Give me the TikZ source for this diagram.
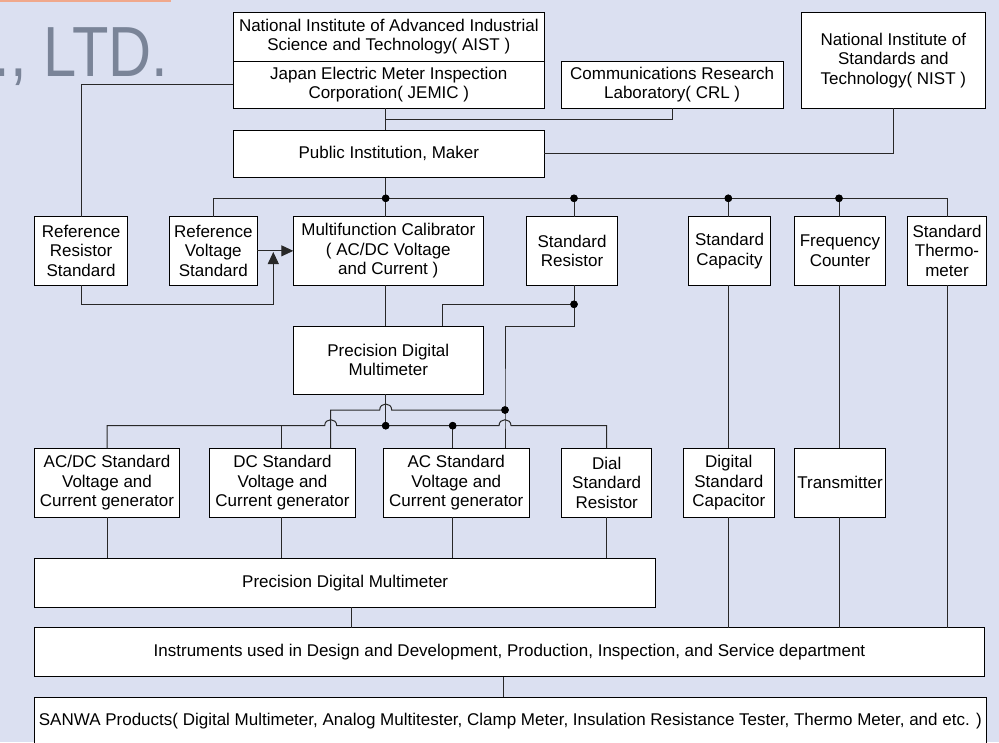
\documentclass[tikz,border=0pt]{standalone}
\usepackage{fontspec}
\setmainfont{Liberation Sans}
\usetikzlibrary{arrows.meta}
\definecolor{bg}{RGB}{219,224,241}
\definecolor{logocol}{RGB}{122,132,152}
\definecolor{barcol}{RGB}{240,168,140}
\definecolor{ln}{RGB}{40,40,40}
\begin{document}
\begin{tikzpicture}[x=1pt,y=-1pt,
  box/.style={draw=black, line width=1pt, fill=white, inner sep=0pt, outer sep=0pt, align=center, font=\fontsize{17}{19.5}\selectfont},
  wire/.style={draw=ln, line width=1pt},
  jdot/.style={circle, fill=black, inner sep=0pt, minimum size=7.5pt},
  tip/.style={-{Triangle[length=12pt,width=11pt]}}
]
\useasboundingbox (0,0) rectangle (999,742);
\begin{scope}
\clip (0,0) rectangle (999,742);
\fill[bg] (0,0) rectangle (999,742);
\fill[barcol] (0,0) rectangle (171,1.5);
\node[anchor=base west, inner sep=0pt, text=logocol] (logo) at (-6.2,76) {\scalebox{0.84}[1]{\fontsize{71}{71}\selectfont ., LTD.}};

% boxes
\node[box, minimum width=311pt, minimum height=48.3pt] (aist) at (388.8,36.85) {National Institute of Advanced Industrial\\Science and Technology( AIST )};
\node[box, minimum width=311pt, minimum height=47.3pt] (jemic) at (388.8,84.65) {Japan Electric Meter Inspection\\Corporation( JEMIC )};
\node[box, minimum width=222.3pt, minimum height=47.3pt] (crl) at (672.15,84.65) {Communications Research\\Laboratory( CRL )};
\node[box, minimum width=183.3pt, minimum height=95.6pt] (nist) at (893.35,60.5) {National Institute of\\Standards and\\Technology( NIST )};
\node[box, minimum width=311pt, minimum height=47.5pt] (pub) at (388.8,153.75) {Public Institution, Maker};

\node[box, minimum width=92.6pt, minimum height=68.3pt] (rrs) at (81,250.85) {Reference\\Resistor\\Standard};
\node[box, minimum width=88pt, minimum height=68.3pt] (rvs) at (213.3,250.85) {Reference\\Voltage\\Standard};
\node[box, minimum width=190pt, minimum height=68.3pt] (mfc) at (388.3,250.85) {Multifunction Calibrator\\( AC/DC Voltage\\and Current )};
\node[box, minimum width=90.6pt, minimum height=68.3pt] (sr) at (572,250.85) {Standard\\Resistor};
\node[box, minimum width=82.4pt, minimum height=68.3pt] (sc) at (729.5,250.85) {Standard\\Capacity};
\node[box, minimum width=91.4pt, minimum height=68.3pt] (fc) at (840,250.85) {Frequency\\Counter};
\node[box, minimum width=79.4pt, minimum height=68.3pt] (st) at (947,250.85) {Standard\\Thermo-\\meter};

\node[box, minimum width=190pt, minimum height=68pt] (pdm1) at (388.3,360) {Precision Digital\\Multimeter};

\node[box, minimum width=144.6pt, minimum height=69pt] (acdc) at (107,482.8) {AC/DC Standard\\Voltage and\\Current generator};
\node[box, minimum width=146.4pt, minimum height=69pt] (dc) at (282.5,482.8) {DC Standard\\Voltage and\\Current generator};
\node[box, minimum width=146pt, minimum height=69pt] (ac) at (456.3,482.8) {AC Standard\\Voltage and\\Current generator};
\node[box, minimum width=90pt, minimum height=69pt] (dial) at (606.7,482.8) {Dial\\Standard\\Resistor};
\node[box, minimum width=91pt, minimum height=69pt] (dsc) at (728.8,482.8) {Digital\\Standard\\Capacitor};
\node[box, minimum width=91.4pt, minimum height=69pt] (tr) at (840,482.8) {Transmitter};

\node[box, minimum width=621pt, minimum height=49pt] (pdm2) at (345.2,582.8) {Precision Digital Multimeter};
\node[box, minimum width=949.6pt, minimum height=49pt] (inst) at (509.5,652.2) {Instruments used in Design and Development, Production, Inspection, and Service department};
\node[box, minimum width=951.3pt, minimum height=46.8pt] (sanwa) at (510.35,720.7) {SANWA Products( Digital Multimeter, Analog Multitester, Clamp Meter, Insulation Resistance Tester, Thermo Meter, and etc. )};

% helper coordinates
\coordinate (sp) at (385.7,0);
\coordinate (crlj) at (385.7,119.3);
\coordinate (lp) at (273.3,304);
\coordinate (lpt) at (273.3,252);
\coordinate (k1) at (442.3,326);
\coordinate (k2) at (574,326);
\coordinate (k3) at (505,326);
\coordinate (u1) at (330.7,410);
\coordinate (dcl) at (281.7,425.7);
\coordinate (q1) at (351.3,0);
\coordinate (q2) at (503.3,0);

% junction dots
\node[jdot] (b1) at (385.7,198.3) {};
\node[jdot] (b2) at (574,198.3) {};
\node[jdot] (b3) at (728.3,198.3) {};
\node[jdot] (b4) at (839,198.3) {};
\node[jdot] (b5) at (574,304.3) {};
\node[jdot] (b6) at (505,410) {};
\node[jdot] (b7) at (385.7,425.7) {};
\node[jdot] (b8) at (452.7,425.7) {};

% top wires
\draw[wire] (jemic.west) -| (rrs.north);
\draw[wire] (jemic.south -| sp) -- (pub.north -| sp);
\draw[wire] (crl.south) |- (crlj);
\draw[wire] (nist.south) |- (pub.east);
\draw[wire] (pub.south -| sp) -- (b1.center) -- (mfc.north -| sp);
\draw[wire] (rvs.north) |- (b1.center) -- (b4.center) -| (st.north);
\draw[wire] (b2.center) -- (b2.center |- sr.north);
\draw[wire] (b3.center) -- (b3.center |- sc.north);
\draw[wire] (b4.center) -- (b4.center |- fc.north);

% reference loop and arrows
\draw[wire,tip] (rrs.south) |- (lp) -- (lpt);
\draw[wire,tip] (rvs.east) -- (mfc.west);

% calibrator to multimeter
\draw[wire] (mfc.south -| sp) -- (pdm1.north -| sp);

% standard resistor
\draw[wire] (sr.south -| b2) -- (b5.center) -| (k1);
\draw[wire] (b5.center) -- (k2) -- (k3) -- (b6.center) -- (ac.north -| b6);

% upper line
\draw[wire] (dc.north -| u1) -- (u1) -- (379.7,410) .. controls (379.7,402) and (391.7,402) .. (391.7,410) -- (b6.center);

% lower line
\draw[wire] (pdm1.south -| sp) -- (b7.center);
\draw[wire] (acdc.north) |- (324.7,425.7) .. controls (324.7,417.7) and (336.7,417.7) .. (336.7,425.7) -- (b7.center) -- (b8.center) -- (499,425.7) .. controls (499,417.7) and (511,417.7) .. (511,425.7) -| (dial.north);
\draw[wire] (dcl) -- (dc.north -| dcl);
\draw[wire] (b8.center) -- (ac.north -| b8);

% row 3 to multimeter
\draw[wire] (acdc.south) -- (acdc.south |- pdm2.north);
\draw[wire] (dc.south -| dcl) -- (pdm2.north -| dcl);
\draw[wire] (ac.south -| b8) -- (pdm2.north -| b8);
\draw[wire] (dial.south) -- (dial.south |- pdm2.north);

% right columns
\draw[wire] (sc.south -| b3) -- (dsc.north -| b3);
\draw[wire] (dsc.south -| b3) -- (inst.north -| b3);
\draw[wire] (fc.south -| b4) -- (tr.north -| b4);
\draw[wire] (tr.south -| b4) -- (inst.north -| b4);
\draw[wire] (st.south) -- (st.south |- inst.north);

% bottom
\draw[wire] (pdm2.south -| q1) -- (inst.north -| q1);
\draw[wire] (inst.south -| q2) -- (sanwa.north -| q2);

% redraw dots on top
\foreach \d in {b1,b2,b3,b4,b5,b6,b7,b8} \fill (\d.center) circle[radius=3.75];
\end{scope}
\end{tikzpicture}
\end{document}
